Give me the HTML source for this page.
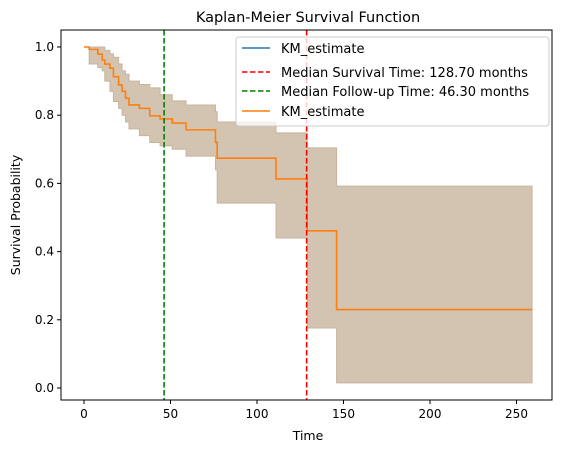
<!DOCTYPE html>
<html><head><meta charset="utf-8">
<style>
body{margin:0;background:#fff;font-family:"Liberation Sans","DejaVu Sans",sans-serif;}
svg text{font-family:"DejaVu Sans","Liberation Sans",sans-serif;}
</style></head>
<body>
<svg id="chart" width="567" height="453" xmlns="http://www.w3.org/2000/svg">
<rect width="567" height="453" fill="#fff"/>
<text x="308" y="22" font-size="14.5" text-anchor="middle">Kaplan-Meier Survival Function</text>
<g id="plot"></g>
<rect x="61" y="30" width="491" height="370" fill="none" stroke="#000" stroke-width="1"/>
<g id="xticks"></g><g id="yticks"></g>
<text x="308" y="440" font-size="12.5" text-anchor="middle">Time</text>
<text x="20" y="215" font-size="12.5" text-anchor="middle" transform="rotate(-90 20 215)">Survival Probability</text>
<g>
<rect x="236" y="37" width="313" height="89" rx="3" fill="#fff" fill-opacity="0.8" stroke="#ccc"/>
<line x1="242" y1="48" x2="270" y2="48" stroke="#1f77b4" stroke-width="1.5"/>
<text x="281" y="53" font-size="13">KM_estimate</text>
<line x1="242" y1="72" x2="270" y2="72" stroke="#ff0000" stroke-width="1.5" stroke-dasharray="5.5,2.5"/>
<text x="281" y="77" font-size="13">Median Survival Time: 128.70 months</text>
<line x1="242" y1="91" x2="270" y2="91" stroke="#008000" stroke-width="1.5" stroke-dasharray="5.5,2.5"/>
<text x="281" y="96" font-size="13">Median Follow-up Time: 46.30 months</text>
<line x1="242" y1="111" x2="270" y2="111" stroke="#ff7f0e" stroke-width="1.5"/>
<text x="281" y="116" font-size="13">KM_estimate</text>
</g>
</svg>
<script>
const times=[0,3,8,10.5,12,15,17,20,22,24,26,32,38,44,51,59,76,77,111,129,146];
const survival=[1.0,0.993,0.979,0.962,0.95,0.938,0.913,0.889,0.87,0.85,0.83,0.82,0.798,0.789,0.777,0.757,0.72,0.674,0.613,0.461,0.23];
const upperCI=[1.0,1.0,1.0,1.0,0.99,0.98,0.97,0.95,0.93,0.92,0.9,0.89,0.88,0.86,0.842,0.83,0.81,0.78,0.748,0.704,0.592];
const lowerCI=[1.0,0.95,0.94,0.93,0.9,0.87,0.84,0.82,0.8,0.78,0.76,0.74,0.72,0.71,0.70,0.68,0.64,0.542,0.44,0.176,0.015];
const endTime=259;
const medianSurvival=128.7, medianFollowup=46.3;
const xTicks=[0,50,100,150,200,250];
const yTicks=[0.0,0.2,0.4,0.6,0.8,1.0];
const NS="http://www.w3.org/2000/svg";
function xs(t){return 84+t*1.73;}
function ys(s){return 388-s*341;}
const plot=document.getElementById('plot');
function mk(tag,attrs,parent){const e=document.createElementNS(NS,tag);for(const k in attrs)e.setAttribute(k,attrs[k]);parent.appendChild(e);return e;}
let upperPts=[],lowerPts=[];
for(let i=0;i<times.length;i++){const t0=times[i],t1=i+1<times.length?times[i+1]:endTime;
upperPts.push([xs(t0),ys(upperCI[i])],[xs(t1),ys(upperCI[i])]);
lowerPts.push([xs(t0),ys(lowerCI[i])],[xs(t1),ys(lowerCI[i])]);}
const pts=upperPts.concat(lowerPts.reverse()).map(p=>p.join(',')).join(' ');
const band=mk('polygon',{points:pts,fill:'#c8b49e','fill-opacity':'0.8',stroke:'#c8b49e','stroke-width':'1'},plot);


let d='';
for(let i=0;i<times.length;i++){const t1=i+1<times.length?times[i+1]:endTime;
d+=(i===0?'M':'L')+xs(times[i])+','+ys(survival[i])+' L'+xs(t1)+','+ys(survival[i])+' ';}
const line=mk('path',{d:d,fill:'none',stroke:'#ff7f0e','stroke-width':'1.6'},plot);


const ml=mk('line',{x1:xs(medianSurvival),x2:xs(medianSurvival),y1:30,y2:400,stroke:'#ff0000','stroke-width':'1.6','stroke-dasharray':'5.5,2.5'},plot);


const fl=mk('line',{x1:xs(medianFollowup),x2:xs(medianFollowup),y1:30,y2:400,stroke:'#008000','stroke-width':'1.6','stroke-dasharray':'5.5,2.5'},plot);


const xg=document.getElementById('xticks');
xTicks.forEach(v=>{const x=xs(v);
mk('line',{x1:x,x2:x,y1:400,y2:404,stroke:'#000'},xg);
const t=mk('text',{x:x,y:418,'font-size':'12','text-anchor':'middle'},xg);t.textContent=v;

});
const yg=document.getElementById('yticks');
yTicks.forEach(v=>{const y=ys(v);
mk('line',{x1:57,x2:61,y1:y,y2:y,stroke:'#000'},yg);
const t=mk('text',{x:54,y:y+4,'font-size':'12','text-anchor':'end'},yg);t.textContent=v.toFixed(1);

});
</script>
</body></html>
